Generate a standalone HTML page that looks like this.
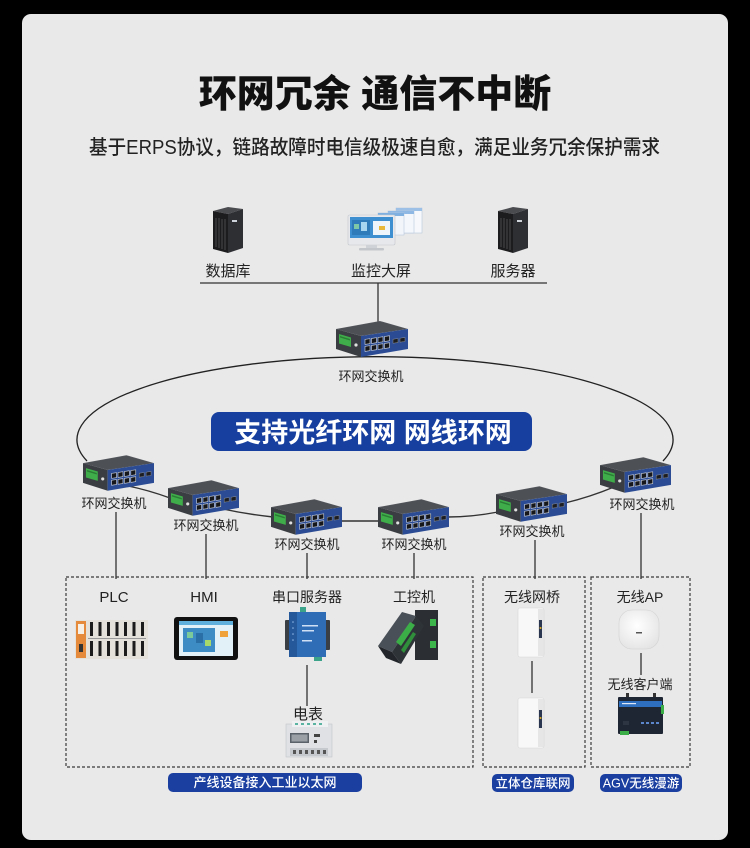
<!DOCTYPE html>
<html>
<head>
<meta charset="utf-8">
<style>
html,body{margin:0;padding:0;background:#000;}
svg{display:block;}
text{font-family:"Liberation Sans","Noto Sans CJK SC",sans-serif;}
</style>
</head>
<body>
<svg width="750" height="848" viewBox="0 0 750 848" xmlns="http://www.w3.org/2000/svg">
<defs>
  <symbol id="sw" viewBox="0 0 72 36">
    <polygon points="0,8 44,0 72,8 25,15" fill="#55585e"/>
    <polygon points="1,8.3 44,0.6 70,8 25,14.2" fill="#4d5055"/>
    <polygon points="0,8 25,15 25,36 0,28" fill="#3a3d42"/>
    <polygon points="25,15 72,8 72,28 25,36" fill="#2b4c94"/>
    <g transform="translate(25,15) matrix(1,-0.149,0,1,0,0)">
      <g fill="#15171b" stroke="#d8dce4" stroke-width="0.6">
        <rect x="4" y="4" width="5" height="5"/>
        <rect x="10.5" y="4" width="5" height="5"/>
        <rect x="17" y="4" width="5" height="5"/>
        <rect x="23.5" y="4" width="5" height="5"/>
        <rect x="4" y="11" width="5" height="5"/>
        <rect x="10.5" y="11" width="5" height="5"/>
        <rect x="17" y="11" width="5" height="5"/>
        <rect x="23.5" y="11" width="5" height="5"/>
      </g>
      <g fill="#1c1d20" stroke="#8a8f99" stroke-width="0.5">
        <rect x="32" y="8" width="5" height="4"/>
        <rect x="39" y="8" width="5" height="4"/>
      </g>
    </g>
    <polygon points="3,13 15,16.5 15,26 3,22.5" fill="#3fae4a"/>
    <polygon points="4,15 14,18 14,19.5 4,16.5" fill="#2a7d35"/>
    <circle cx="20" cy="24" r="1.6" fill="#e0e0e0"/>
  </symbol>
  <radialGradient id="apg" cx="0.45" cy="0.4" r="0.7">
    <stop offset="0" stop-color="#ffffff"/>
    <stop offset="1" stop-color="#e2e2e2"/>
  </radialGradient>
</defs>

<rect width="750" height="848" fill="#000"/>
<rect x="22" y="14" width="706" height="826" rx="9" fill="#e9e9e9"/>

<!-- Title -->
<text x="375" y="107" text-anchor="middle" font-size="38" font-weight="900" fill="#111">环网冗余 通信不中断</text>
<text x="89" y="154" font-size="20" font-weight="500" fill="#222" textLength="571" lengthAdjust="spacingAndGlyphs">基于ERPS协议，链路故障时电信级极速自愈，满足业务冗余保护需求</text>

<!-- Top devices: servers -->
<g>
  <polygon points="213,211 228,207 243,209 228,214" fill="#4a4b4f"/>
  <polygon points="213,211 228,214 228,253 213,249" fill="#1c1c1e"/>
  <g stroke="#4a4a4e" stroke-width="1">
    <line x1="216" y1="218" x2="216" y2="247"/>
    <line x1="219" y1="218" x2="219" y2="248"/>
    <line x1="222" y1="219" x2="222" y2="249"/>
    <line x1="225" y1="219" x2="225" y2="250"/>
  </g>
  <polygon points="228,214 243,209 243,248 228,253" fill="#2e2f33"/>
  <rect x="232" y="220" width="5" height="2" fill="#cfd3da"/>
</g>
<g>
  <polygon points="498,211 513,207 528,209 513,214" fill="#4a4b4f"/>
  <polygon points="498,211 513,214 513,253 498,249" fill="#1c1c1e"/>
  <g stroke="#4a4a4e" stroke-width="1">
    <line x1="501" y1="218" x2="501" y2="247"/>
    <line x1="504" y1="218" x2="504" y2="248"/>
    <line x1="507" y1="219" x2="507" y2="249"/>
    <line x1="510" y1="219" x2="510" y2="250"/>
  </g>
  <polygon points="513,214 528,209 528,248 513,253" fill="#2e2f33"/>
  <rect x="517" y="220" width="5" height="2" fill="#cfd3da"/>
</g>
<!-- Monitor -->
<g>
  <rect x="396" y="208" width="26" height="25" fill="#f6f8fb" stroke="#b9c8dc" stroke-width="0.6"/>
  <rect x="396" y="208" width="26" height="3" fill="#9cc0e6"/>
  <rect x="388" y="211" width="26" height="22" fill="#f4f7fb" stroke="#b9c8dc" stroke-width="0.6"/>
  <rect x="388" y="211" width="26" height="3" fill="#8fb8e4"/>
  <rect x="378" y="213" width="26" height="22" fill="#f2f5fa" stroke="#b9c8dc" stroke-width="0.6"/>
  <rect x="378" y="213" width="26" height="3" fill="#7fb0e0"/>
  <rect x="348" y="215" width="47" height="30" rx="1.5" fill="#e6e8ec" stroke="#c3c7cd" stroke-width="0.6"/>
  <rect x="350" y="217" width="43" height="21" fill="#3d8fcf"/>
  <rect x="352" y="220" width="18" height="15" fill="#2f7bb9"/>
  <rect x="354" y="224" width="5" height="5" fill="#7ec8a8"/>
  <rect x="361" y="222" width="6" height="9" fill="#a8d6f0"/>
  <rect x="373" y="221" width="17" height="14" fill="#eef5fb"/>
  <rect x="379" y="226" width="6" height="4" fill="#e8b83a"/>
  <rect x="366" y="245" width="11" height="3" fill="#cfd2d6"/>
  <rect x="359" y="248" width="25" height="2.5" rx="1" fill="#c3c6ca"/>
</g>
<text x="228" y="276" text-anchor="middle" font-size="15" fill="#222">数据库</text>
<text x="381" y="276" text-anchor="middle" font-size="15" fill="#222">监控大屏</text>
<text x="513" y="276" text-anchor="middle" font-size="15" fill="#222">服务器</text>

<!-- Top lines -->
<g stroke="#333" stroke-width="1.3" fill="none">
  <path d="M200,283 H547"/>
  <path d="M378,283 V323"/>
</g>

<!-- Ring -->
<path d="M87,461 A298,83 0 1,1 663,461" fill="none" stroke="#222" stroke-width="1.3"/>

<!-- Chain links -->
<g stroke="#333" stroke-width="1.4" fill="none">
  <path d="M128,486 Q148,490 170,498"/>
  <path d="M218,508 Q245,514 273,517"/>
  <path d="M340,521 H380"/>
  <path d="M448,517 Q472,517 498,512"/>
  <path d="M565,503 Q590,497 614,487"/>
</g>

<!-- Switches -->
<use href="#sw" x="333" y="321" width="78" height="36"/>
<use href="#sw" x="83" y="455" width="71" height="36"/>
<use href="#sw" x="168" y="480" width="71" height="36"/>
<use href="#sw" x="271" y="499" width="71" height="36"/>
<use href="#sw" x="378" y="499" width="71" height="36"/>
<use href="#sw" x="496" y="486" width="71" height="36"/>
<use href="#sw" x="600" y="457" width="71" height="36"/>

<g font-size="13" fill="#222" text-anchor="middle">
  <text x="371" y="381">环网交换机</text>
  <text x="114" y="508">环网交换机</text>
  <text x="206" y="530">环网交换机</text>
  <text x="307" y="549">环网交换机</text>
  <text x="414" y="549">环网交换机</text>
  <text x="532" y="536">环网交换机</text>
  <text x="642" y="509">环网交换机</text>
</g>

<!-- Banner -->
<rect x="211" y="412" width="321" height="39" rx="8" fill="#173f9f"/>
<text x="373" y="442" text-anchor="middle" font-size="27" font-weight="700" fill="#fff">支持光纤环网 网线环网</text>

<!-- Drop lines -->
<g stroke="#333" stroke-width="1.3" fill="none">
  <path d="M116,512 V579"/>
  <path d="M206,534 V579"/>
  <path d="M307,553 V579"/>
  <path d="M414,553 V579"/>
  <path d="M535,540 V579"/>
  <path d="M641,513 V579"/>
  <path d="M307,665 V706"/>
  <path d="M532,661 V693"/>
  <path d="M641,653 V675"/>
</g>

<!-- Dashed boxes -->
<g fill="none" stroke="#3a3a3a" stroke-width="1.2" stroke-dasharray="3,2">
  <rect x="66" y="577" width="407" height="190"/>
  <rect x="483" y="577" width="102" height="190"/>
  <rect x="591" y="577" width="99" height="190"/>
</g>

<!-- Box labels -->
<g font-size="14" fill="#222" text-anchor="middle">
  <text x="114" y="602" font-size="15">PLC</text>
  <text x="204" y="602" font-size="15">HMI</text>
  <text x="307" y="602">串口服务器</text>
  <text x="414" y="602">工控机</text>
  <text x="308" y="719" font-size="15">电表</text>
  <text x="532" y="602">无线网桥</text>
  <text x="640" y="602">无线AP</text>
  <text x="640" y="689" font-size="13">无线客户端</text>
</g>

<!-- PLC -->
<g>
  <rect x="75" y="620" width="73" height="39" fill="#e4e0da"/>
  <rect x="76" y="621" width="10" height="37" fill="#e58a3a"/>
  <rect x="78" y="624" width="6" height="10" fill="#f6efe6"/>
  <rect x="79" y="644" width="4" height="8" fill="#333"/>
  <g fill="#1c1c1c">
    <rect x="90" y="622" width="3" height="14"/><rect x="90" y="641" width="3" height="15"/>
    <rect x="98.5" y="622" width="3" height="14"/><rect x="98.5" y="641" width="3" height="15"/>
    <rect x="107" y="622" width="3" height="14"/><rect x="107" y="641" width="3" height="15"/>
    <rect x="115.5" y="622" width="3" height="14"/><rect x="115.5" y="641" width="3" height="15"/>
    <rect x="124" y="622" width="3" height="14"/><rect x="124" y="641" width="3" height="15"/>
    <rect x="132.5" y="622" width="3" height="14"/><rect x="132.5" y="641" width="3" height="15"/>
    <rect x="141" y="622" width="3" height="14"/><rect x="141" y="641" width="3" height="15"/>
  </g>
  <g fill="#9a9a9a">
    <rect x="88" y="638" width="58" height="1"/>
  </g>
</g>

<!-- HMI -->
<g>
  <rect x="174" y="617" width="64" height="43" rx="3" fill="#111"/>
  <rect x="179" y="621" width="54" height="35" fill="#e2f0f8"/>
  <rect x="179" y="621" width="54" height="4" fill="#5fb0dd"/>
  <rect x="183" y="628" width="32" height="24" fill="#3d8dc4"/>
  <rect x="187" y="632" width="6" height="6" fill="#7cc99a"/>
  <rect x="196" y="633" width="7" height="10" fill="#2a6fa6"/>
  <rect x="205" y="640" width="6" height="6" fill="#a6d86a"/>
  <rect x="220" y="631" width="8" height="6" fill="#f0a23a"/>
</g>

<!-- Serial server -->
<g>
  <rect x="285" y="620" width="6" height="30" rx="1" fill="#3a3f46"/>
  <rect x="324" y="620" width="6" height="30" rx="1" fill="#3a3f46"/>
  <rect x="300" y="607" width="6" height="6" fill="#3aa38a"/>
  <rect x="314" y="655" width="8" height="6" fill="#3aa38a"/>
  <rect x="289" y="612" width="37" height="45" fill="#2f6db7"/>
  <rect x="289" y="612" width="8" height="45" fill="#24589a"/>
  <rect x="302" y="625" width="16" height="1.5" fill="#cfe0f4"/>
  <rect x="302" y="630" width="12" height="1.5" fill="#cfe0f4"/>
  <rect x="302" y="640" width="10" height="1.5" fill="#cfe0f4"/>
  <g fill="#8fb6e6"><circle cx="293" cy="622" r="0.8"/><circle cx="293" cy="628" r="0.8"/><circle cx="293" cy="634" r="0.8"/><circle cx="293" cy="640" r="0.8"/></g>
</g>

<!-- Industrial PC -->
<g>
  <rect x="415" y="610" width="23" height="50" fill="#2b2f34"/>
  <rect x="430" y="619" width="6" height="7" fill="#3cb54a"/>
  <rect x="430" y="641" width="6" height="7" fill="#3cb54a"/>
  <polygon points="378,646 402,612 416,616 392,652" fill="#4a5058"/>
  <polygon points="392,652 416,616 424,626 401,664" fill="#2e3338"/>
  <polygon points="378,646 392,652 401,664 386,658" fill="#22262b"/>
  <polygon points="396,642 410,622 415,625 401,646" fill="#3cae48"/>
  <polygon points="401,650 413,632 416,634 404,653" fill="#2f8f3b"/>
</g>

<!-- Meter -->
<g>
  <rect x="286" y="724" width="46" height="33" fill="#dfe1e4" stroke="#c4c6ca" stroke-width="0.6"/>
  <rect x="292" y="721" width="36" height="6" fill="#eef0f2"/>
  <g fill="#5ab2a0"><rect x="295" y="723" width="3" height="2"/><rect x="301" y="723" width="3" height="2"/><rect x="307" y="723" width="3" height="2"/><rect x="313" y="723" width="3" height="2"/><rect x="319" y="723" width="3" height="2"/></g>
  <rect x="290" y="733" width="19" height="10" fill="#5b6168"/>
  <rect x="291.5" y="734.5" width="16" height="7" fill="#9aa0a6"/>
  <rect x="314" y="734" width="6" height="3" fill="#444"/>
  <rect x="314" y="740" width="3" height="3" fill="#444"/>
  <rect x="290" y="748" width="38" height="8" fill="#c6c9cd"/>
  <g fill="#555"><rect x="293" y="750" width="3" height="4"/><rect x="299" y="750" width="3" height="4"/><rect x="305" y="750" width="3" height="4"/><rect x="311" y="750" width="3" height="4"/><rect x="317" y="750" width="3" height="4"/><rect x="323" y="750" width="3" height="4"/></g>
</g>

<!-- Wireless bridges -->
<g>
  <rect x="518" y="608" width="26" height="49" rx="2" fill="#f8f8f8" stroke="#d6d6d6" stroke-width="0.6"/>
  <rect x="538" y="609" width="5.5" height="47" fill="#e6e6e6"/>
  <rect x="539" y="620" width="3" height="18" fill="#2a3550"/>
  <circle cx="540.5" cy="628" r="1" fill="#e0b020"/>
  <rect x="518" y="698" width="26" height="50" rx="2" fill="#f8f8f8" stroke="#d6d6d6" stroke-width="0.6"/>
  <rect x="538" y="699" width="5.5" height="48" fill="#e6e6e6"/>
  <rect x="539" y="710" width="3" height="18" fill="#2a3550"/>
  <circle cx="540.5" cy="718" r="1" fill="#e0b020"/>
</g>

<!-- AP -->
<g>
  <rect x="619" y="610" width="40" height="39" rx="13" fill="url(#apg)" stroke="#d2d2d2" stroke-width="0.6"/>
  <rect x="636" y="632" width="6" height="1.5" fill="#555"/>
</g>

<!-- Wireless client -->
<g>
  <rect x="626" y="693" width="3" height="5" fill="#333"/>
  <rect x="653" y="693" width="3" height="5" fill="#333"/>
  <rect x="618" y="697" width="45" height="37" rx="1" fill="#1f2633"/>
  <rect x="619" y="701" width="43" height="6" fill="#2f6fc0"/>
  <rect x="622" y="703" width="14" height="1.2" fill="#dfe8f6"/>
  <rect x="661" y="705" width="3" height="9" fill="#3cae48"/>
  <rect x="620" y="731" width="9" height="4" fill="#3cae48"/>
  <g fill="#5b86cc"><rect x="641" y="722" width="3" height="2"/><rect x="646" y="722" width="3" height="2"/><rect x="651" y="722" width="3" height="2"/><rect x="656" y="722" width="3" height="2"/></g>
  <rect x="623" y="721" width="6" height="4" fill="#2d3442"/>
</g>

<!-- Bottom pills -->
<rect x="168" y="773" width="194" height="19" rx="5" fill="#1a3fa0"/>
<text x="265" y="787" text-anchor="middle" font-size="13" font-weight="500" fill="#fff">产线设备接入工业以太网</text>
<rect x="492" y="774" width="82" height="18" rx="5" fill="#1a3fa0"/>
<text x="533" y="787.5" text-anchor="middle" font-size="12.5" font-weight="500" fill="#fff">立体仓库联网</text>
<rect x="600" y="774" width="82" height="18" rx="5" fill="#1a3fa0"/>
<text x="641" y="787.5" text-anchor="middle" font-size="12.5" font-weight="500" fill="#fff">AGV无线漫游</text>
</svg>
</body>
</html>
